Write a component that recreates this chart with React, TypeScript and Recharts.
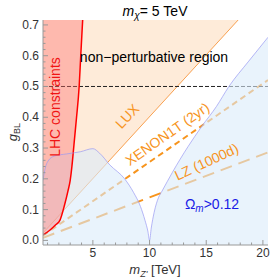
import { ComposedChart, Area, XAxis, YAxis } from "recharts";

// axis ranges and ticks
const xDomain = [0.6, 20.45];
const yDomain = [-0.015, 0.716];
const xTicks = Array.from({ length: 20 }, (_, i) => i + 1);
const yTicks = Array.from({ length: 36 }, (_, i) => Math.round(i * 2) / 100);

// exclusion lines (g_BL vs m_Z')
const luxLine = [
  { x: 0.6, y: 0.024 },
  { x: 20.45, y: 0.822 },
];
const xenonLine = [
  { x: 0.6, y: 0.0153 },
  { x: 20.45, y: 0.521 },
];
const lzLine = [
  { x: 0.6, y: 0.0084 },
  { x: 20.45, y: 0.286 },
];
const perturbativeLimit = [
  { x: 0.6, y: 0.5 },
  { x: 20.45, y: 0.5 },
];

// LHC bound
const lhcLine = [
  { x: 0.6, y: 0.018 },
  { x: 1.2, y: 0.033 },
  { x: 1.7, y: 0.05 },
  { x: 2.1, y: 0.066 },
  { x: 2.5, y: 0.115 },
  { x: 2.8, y: 0.16 },
  { x: 3.0, y: 0.195 },
  { x: 3.15, y: 0.24 },
  { x: 3.28, y: 0.29 },
  { x: 3.38, y: 0.33 },
  { x: 3.56, y: 0.4 },
  { x: 3.79, y: 0.5 },
  { x: 3.93, y: 0.6 },
  { x: 4.12, y: 0.73 },
];

// relic density contour
const omegaLine = [
  { x: 0.6, y: 0.195 },
  { x: 0.8, y: 0.235 },
  { x: 1.05, y: 0.258 },
  { x: 1.6, y: 0.274 },
  { x: 2.7, y: 0.281 },
  { x: 3.9, y: 0.288 },
  { x: 5.0, y: 0.298 },
  { x: 5.6, y: 0.283 },
  { x: 6.5, y: 0.245 },
  { x: 7.8, y: 0.2 },
  { x: 8.6, y: 0.155 },
  { x: 9.2, y: 0.11 },
  { x: 9.6, y: 0.065 },
  { x: 9.85, y: 0.03 },
  { x: 10, y: 0 },
  { x: 10.15, y: 0.04 },
  { x: 10.4, y: 0.09 },
  { x: 10.8, y: 0.14 },
  { x: 11.1, y: 0.16 },
  { x: 12, y: 0.22 },
  { x: 13.4, y: 0.305 },
  { x: 14.6, y: 0.37 },
  { x: 15.9, y: 0.435 },
  { x: 17, y: 0.5 },
  { x: 18.7, y: 0.58 },
  { x: 20.45, y: 0.66 },
];

const frameColor = "#999";
const labelColor = "#333";
const orange = "#f7941d";
const font = "'Liberation Sans', Arial, sans-serif";

const isMajorX = (v: number) => Math.abs(v / 5 - Math.round(v / 5)) < 1e-6;
const isMajorY = (v: number) => Math.abs(v * 10 - Math.round(v * 10)) < 1e-6;

const BottomTick = (p: any) => {
  const major = isMajorX(p.payload.value);
  return (
    <g>
      <line x1={p.x} x2={p.x} y1={p.y} y2={p.y - (major ? 5 : 2.5)} stroke={frameColor} />
      {major && (
        <text x={p.x} y={p.y + 12} textAnchor="middle" fontSize={12} fill={labelColor} fontFamily={font}>
          {p.payload.value}
        </text>
      )}
    </g>
  );
};

const TopTick = (p: any) => {
  const major = isMajorX(p.payload.value);
  return <line x1={p.x} x2={p.x} y1={p.y} y2={p.y + (major ? 5 : 2.5)} stroke={frameColor} />;
};

const LeftTick = (p: any) => {
  const major = isMajorY(p.payload.value);
  return (
    <g>
      <line x1={p.x} x2={p.x + (major ? 5 : 2.5)} y1={p.y} y2={p.y} stroke={frameColor} />
      {major && (
        <text x={p.x - 4} y={p.y + 4} textAnchor="end" fontSize={12} fill={labelColor} fontFamily={font}>
          {p.payload.value.toFixed(1)}
        </text>
      )}
    </g>
  );
};

const RightTick = (p: any) => {
  const major = isMajorY(p.payload.value);
  return <line x1={p.x} x2={p.x - (major ? 5 : 2.5)} y1={p.y} y2={p.y} stroke={frameColor} />;
};

const above = (d: any) => [d.y, 0.9];
const below = (d: any) => [-0.1, d.y];

export default function App() {
  return (
    <div style={{ position: "absolute", left: 0, top: 0, width: 278, height: 278, fontFamily: font }}>
      <ComposedChart width={278} height={278} margin={{ top: 20, right: 10, bottom: 0, left: 0 }}>
        <XAxis
          xAxisId={0}
          type="number"
          dataKey="x"
          domain={xDomain}
          allowDataOverflow
          ticks={xTicks}
          interval={0}
          height={33}
          tickSize={0}
          tickMargin={0}
          tickLine={false}
          axisLine={{ stroke: frameColor }}
          tick={BottomTick}
        />
        <XAxis
          xAxisId="top"
          orientation="top"
          type="number"
          dataKey="x"
          domain={xDomain}
          allowDataOverflow
          ticks={xTicks}
          interval={0}
          height={0}
          tickSize={0}
          tickMargin={0}
          tickLine={false}
          axisLine={{ stroke: frameColor }}
          tick={TopTick}
        />
        <YAxis
          yAxisId={0}
          type="number"
          domain={yDomain}
          allowDataOverflow
          ticks={yTicks}
          interval={0}
          width={43}
          tickSize={0}
          tickMargin={0}
          tickLine={false}
          axisLine={{ stroke: frameColor }}
          tick={LeftTick}
        />
        <YAxis
          yAxisId="right"
          orientation="right"
          type="number"
          domain={yDomain}
          allowDataOverflow
          ticks={yTicks}
          interval={0}
          width={0}
          tickSize={0}
          tickMargin={0}
          tickLine={false}
          axisLine={{ stroke: frameColor }}
          tick={RightTick}
        />

        <Area data={luxLine} dataKey={above} type="linear" fill="#feebd9" fillOpacity={1} stroke="none" isAnimationActive={false} />
        <Area data={luxLine} dataKey="y" type="linear" fill="none" stroke="#f8a050" strokeWidth={1} isAnimationActive={false} />
        <Area data={xenonLine} dataKey="y" type="linear" fill="none" stroke={orange} strokeWidth={2} strokeDasharray="6 4" isAnimationActive={false} />
        <Area data={lzLine} dataKey="y" type="linear" fill="none" stroke={orange} strokeWidth={2} strokeDasharray="12 7" isAnimationActive={false} />
        <Area data={perturbativeLimit} dataKey="y" type="linear" fill="none" stroke="#222" strokeWidth={1} strokeDasharray="4 2" isAnimationActive={false} />
        <Area data={omegaLine} dataKey={below} type="monotoneX" fill="rgb(218,235,250)" fillOpacity={0.6} stroke="none" isAnimationActive={false} />
        <Area data={lhcLine} dataKey={above} type="monotoneX" fill="rgb(255,110,110)" fillOpacity={0.4} stroke="none" isAnimationActive={false} />
        <Area data={lhcLine} dataKey="y" type="monotoneX" fill="none" stroke="#ff0000" strokeWidth={1.5} isAnimationActive={false} />
        <Area data={omegaLine} dataKey="y" type="monotoneX" fill="none" stroke="#9a9af2" strokeWidth={0.7} isAnimationActive={false} />
      </ComposedChart>

      <svg width={278} height={278} style={{ position: "absolute", left: 0, top: 0, pointerEvents: "none" }} fontFamily={font}>
        <text x={155} y={16} textAnchor="middle" fontSize={14} fill="#000">
          <tspan fontStyle="italic">m</tspan>
          <tspan fontStyle="italic" fontSize={10} dy={3}>χ</tspan>
          <tspan dy={-3}>= 5 TeV</tspan>
        </text>
        <text x={155} y={274} textAnchor="middle" fontSize={13} fill={labelColor}>
          <tspan fontStyle="italic">m</tspan>
          <tspan fontStyle="italic" fontSize={9} dy={3}>Z'</tspan>
          <tspan dy={-3}> [TeV]</tspan>
        </text>
        <text transform="translate(17,132) rotate(-90)" textAnchor="middle" fontSize={13} fill={labelColor}>
          <tspan fontStyle="italic">g</tspan>
          <tspan fontSize={9} dy={3}>BL</tspan>
        </text>
        <text x={154} y={62} textAnchor="middle" fontSize={14} fill="#000">non−perturbative region</text>
        <text transform="translate(60,107) rotate(-90)" textAnchor="middle" fontSize={14} fill="#f01414">LHC constraints</text>
        <text transform="translate(128,117) rotate(-47)" textAnchor="middle" dominantBaseline="middle" fontSize={14} fill={orange}>LUX</text>
        <text transform="translate(168,135) rotate(-35)" textAnchor="middle" dominantBaseline="middle" fontSize={14} fill={orange}>XENON1T (2yr)</text>
        <text transform="translate(207,163) rotate(-25)" textAnchor="middle" dominantBaseline="middle" fontSize={14} fill={orange}>LZ (1000d)</text>
        <text x={212} y={209} textAnchor="middle" fontSize={14} fill="#1a1ae6">
          Ω<tspan fontStyle="italic" fontSize={10} dy={3}>m</tspan>
          <tspan dy={-3}>&gt;0.12</tspan>
        </text>
      </svg>
    </div>
  );
}
